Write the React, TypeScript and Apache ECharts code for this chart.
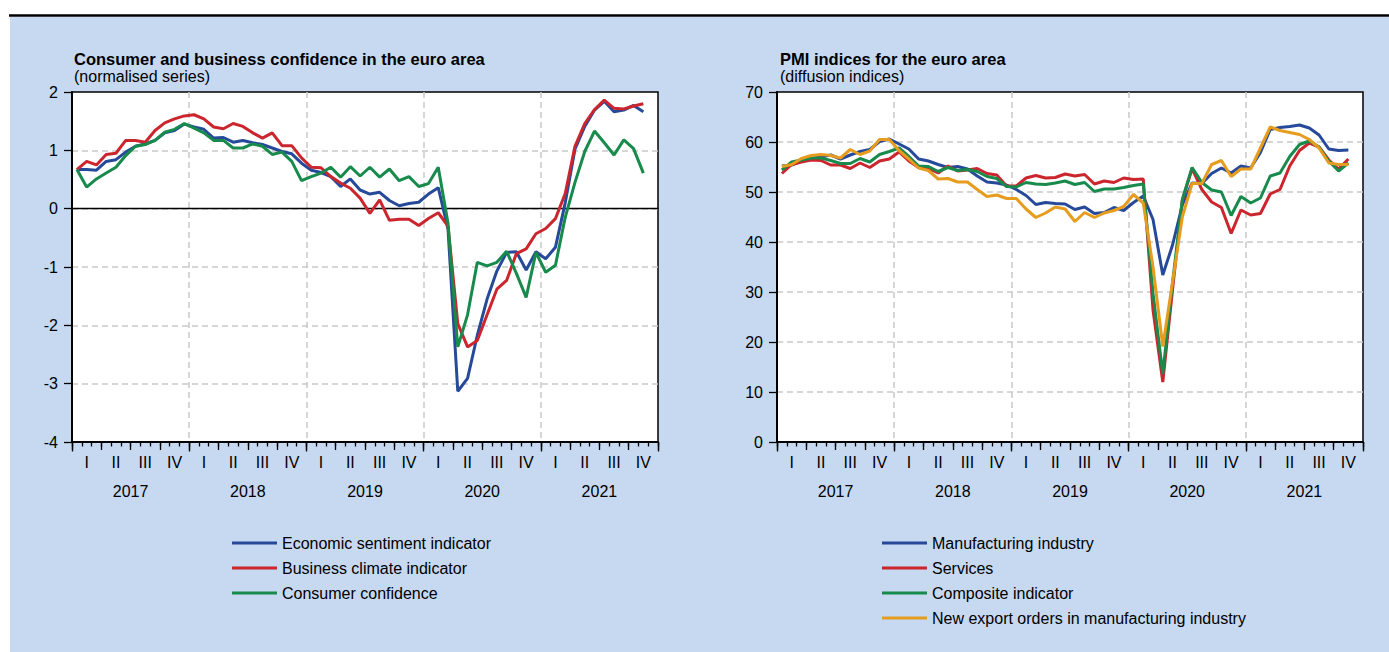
import React, { useEffect, useRef } from "react";
import * as echarts from "echarts";

// ---------- categories / tick labels ----------
const YEARS: string[] = ["2017", "2018", "2019", "2020", "2021"];
const QUARTER_NAMES: string[] = ["I", "II", "III", "IV"];
const MONTH_NAMES: string[] = ["Jan", "Feb", "Mar", "Apr", "May", "Jun", "Jul", "Aug", "Sep", "Oct", "Nov", "Dec"];

const MONTHS: string[] = YEARS.flatMap((y) => MONTH_NAMES.map((m) => `${m} ${y}`));
const QUARTERS: string[] = YEARS.flatMap((y) => QUARTER_NAMES.map((q) => `${q} ${y}`));

// ---------- left chart: normalised series (Jan 2017 - Nov 2021) ----------
const ESI: number[] = [
  0.67, 0.67, 0.66, 0.81, 0.84, 0.97, 1.07, 1.11, 1.17, 1.30, 1.34, 1.45,
  1.40, 1.36, 1.21, 1.22, 1.14, 1.17, 1.13, 1.10, 1.04, 0.98, 0.94, 0.78,
  0.66, 0.62, 0.55, 0.38, 0.51, 0.32, 0.25, 0.28, 0.14, 0.05, 0.09, 0.11,
  0.25, 0.36, -0.35, -3.13, -2.91, -2.17, -1.55, -1.07, -0.75, -0.74, -1.05, -0.74,
  -0.86, -0.66, 0.10, 1.02, 1.41, 1.69, 1.84, 1.66, 1.69, 1.77, 1.66,
];
const BCI: number[] = [
  0.67, 0.81, 0.75, 0.93, 0.95, 1.17, 1.17, 1.14, 1.34, 1.47, 1.54, 1.59,
  1.61, 1.54, 1.40, 1.37, 1.46, 1.41, 1.30, 1.21, 1.30, 1.08, 1.08, 0.87,
  0.71, 0.70, 0.55, 0.44, 0.35, 0.18, -0.08, 0.15, -0.20, -0.18, -0.18, -0.29,
  -0.17, -0.07, -0.30, -1.97, -2.37, -2.26, -1.82, -1.38, -1.23, -0.77, -0.69, -0.43,
  -0.34, -0.17, 0.26, 1.07, 1.46, 1.70, 1.86, 1.72, 1.71, 1.76, 1.80,
];
const CONSUMER: number[] = [
  0.67, 0.37, 0.51, 0.61, 0.71, 0.91, 1.07, 1.10, 1.17, 1.31, 1.36, 1.46,
  1.38, 1.30, 1.17, 1.17, 1.04, 1.04, 1.11, 1.07, 0.93, 0.97, 0.81, 0.48,
  0.55, 0.61, 0.71, 0.54, 0.72, 0.56, 0.71, 0.54, 0.68, 0.48, 0.55, 0.38,
  0.43, 0.71, -0.25, -2.37, -1.82, -0.92, -0.98, -0.92, -0.73, -1.11, -1.52, -0.75,
  -1.09, -0.97, -0.15, 0.45, 0.98, 1.33, 1.13, 0.92, 1.18, 1.03, 0.61,
];

// ---------- right chart: PMI diffusion indices (Jan 2017 - Nov 2021) ----------
const MANUFACTURING: number[] = [
  55.2, 55.4, 56.2, 56.7, 57.0, 57.4, 56.6, 57.4, 58.1, 58.5, 60.1, 60.6,
  59.6, 58.6, 56.6, 56.2, 55.5, 54.9, 55.1, 54.6, 53.2, 52.0, 51.8, 51.4,
  50.5, 49.3, 47.5, 47.9, 47.7, 47.6, 46.5, 47.0, 45.7, 45.9, 46.9, 46.3,
  47.9, 49.2, 44.5, 33.4, 39.4, 47.4, 51.8, 51.7, 53.7, 54.8, 53.8, 55.2,
  54.8, 57.9, 62.5, 62.9, 63.1, 63.4, 62.8, 61.4, 58.6, 58.3, 58.4,
];
const SERVICES: number[] = [
  53.7, 55.5, 56.0, 56.4, 56.3, 55.4, 55.4, 54.7, 55.8, 54.9, 56.2, 56.6,
  58.0, 56.2, 54.9, 54.7, 53.8, 55.2, 54.2, 54.4, 54.7, 53.7, 53.4, 51.2,
  51.2, 52.8, 53.3, 52.8, 52.9, 53.6, 53.2, 53.5, 51.6, 52.2, 51.9, 52.8,
  52.5, 52.6, 26.4, 12.0, 30.5, 48.3, 54.7, 50.5, 48.0, 46.9, 41.7, 46.4,
  45.4, 45.7, 49.6, 50.5, 55.2, 58.3, 59.8, 59.0, 56.4, 54.6, 56.6,
];
const COMPOSITE: number[] = [
  54.4, 56.0, 56.4, 56.8, 56.8, 56.3, 55.7, 55.7, 56.7, 56.0, 57.5, 58.1,
  58.8, 57.1, 55.2, 55.1, 54.1, 54.9, 54.3, 54.5, 54.1, 53.1, 52.7, 51.1,
  51.0, 51.9, 51.6, 51.5, 51.8, 52.2, 51.5, 51.9, 50.1, 50.6, 50.6, 50.9,
  51.3, 51.6, 29.7, 13.6, 31.9, 48.5, 54.9, 51.9, 50.4, 50.0, 45.3, 49.1,
  47.8, 48.8, 53.2, 53.8, 57.1, 59.5, 60.2, 59.0, 56.2, 54.2, 55.8,
];
const EXPORT_ORDERS: number[] = [
  55.1, 55.5, 56.7, 57.3, 57.5, 57.3, 56.8, 58.5, 57.5, 58.2, 60.5, 60.5,
  58.3, 56.6, 54.8, 54.3, 52.6, 52.7, 52.0, 52.0, 50.5, 49.1, 49.4, 48.7,
  48.7, 46.6, 44.9, 45.8, 47.0, 46.6, 44.1, 45.9, 44.9, 45.8, 46.3, 47.1,
  49.5, 47.8, 35.0, 19.1, 32.0, 45.0, 51.7, 51.7, 55.5, 56.3, 53.1, 54.6,
  54.6, 58.8, 63.0, 62.3, 61.9, 61.5, 60.5, 58.8, 55.8, 55.5, 55.5,
];

const LEFT_NAMES: string[] = ["Economic sentiment indicator", "Business climate indicator", "Consumer confidence"];
const RIGHT_NAMES: string[] = [
  "Manufacturing industry",
  "Services",
  "Composite indicator",
  "New export orders in manufacturing industry",
];

// ---------- styles ----------
const FONT = "'Liberation Sans', Arial, Helvetica, sans-serif";
const BLUE = "#26499A";
const RED = "#CB252D";
const GREEN = "#178A4C";
const ORANGE = "#E59C1F";
const PANEL = "#C6D9F1";
const GRIDLINE = "#C9C9C9";

const makeXAxes = (gridIndex: number) => [
  {
    type: "category",
    gridIndex,
    data: MONTHS,
    boundaryGap: true,
    position: "bottom",
    axisLine: { show: true, onZero: false, lineStyle: { color: "#000", width: 2 } },
    axisTick: { show: true, interval: 0, length: 4.5, lineStyle: { color: "#000", width: 1.3 } },
    axisLabel: { show: false },
    splitLine: { show: false },
  },
  {
    type: "category",
    gridIndex,
    data: QUARTERS,
    boundaryGap: true,
    position: "bottom",
    axisLine: { show: false, onZero: false },
    axisTick: { show: true, interval: 0, length: 8, lineStyle: { color: "#000", width: 1.3 } },
    axisLabel: {
      show: true,
      interval: 0,
      margin: 12,
      fontSize: 16,
      color: "#000",
      fontFamily: FONT,
      formatter: (v: string) => v.split(" ")[0],
    },
    splitLine: { show: false },
  },
  {
    type: "category",
    gridIndex,
    data: YEARS,
    boundaryGap: true,
    position: "bottom",
    axisLine: { show: false, onZero: false },
    axisTick: { show: true, interval: 0, length: 9.5, lineStyle: { color: "#000", width: 1.3 } },
    axisLabel: { show: true, interval: 0, margin: 41, fontSize: 16, color: "#000", fontFamily: FONT },
    splitLine: {
      show: true,
      interval: 0,
      showMinLine: false,
      showMaxLine: false,
      lineStyle: { color: GRIDLINE, width: 1.5, type: [6, 4] },
    },
  },
];

const makeYAxis = (gridIndex: number, min: number, max: number, interval: number) => ({
  type: "value",
  gridIndex,
  min,
  max,
  interval,
  position: "left",
  axisLine: { show: true, onZero: false, lineStyle: { color: "#000", width: 2 } },
  axisTick: { show: true, length: 8, lineStyle: { color: "#000", width: 1.3 } },
  axisLabel: { margin: 14, fontSize: 16, color: "#000", fontFamily: FONT },
  splitLine: {
    show: true,
    showMinLine: false,
    showMaxLine: false,
    lineStyle: { color: GRIDLINE, width: 1.5, type: [6, 4] },
  },
});

const lineSeries = (name: string, data: number[], color: string, xAxisIndex: number, yAxisIndex: number) => ({
  name,
  type: "line",
  data,
  xAxisIndex,
  yAxisIndex,
  symbol: "none",
  showSymbol: false,
  lineStyle: { width: 3, color },
  itemStyle: { color },
  emphasis: { disabled: true },
});

export default function App() {
  const ref = useRef<HTMLDivElement>(null);

  useEffect(() => {
    if (!ref.current) return;
    const chart = echarts.init(ref.current, undefined, { renderer: "svg" });

    const xLeft = makeXAxes(0);
    const xRight = makeXAxes(1);
    const zeroLineAxis = {
      type: "category",
      gridIndex: 0,
      data: MONTHS,
      boundaryGap: true,
      position: "bottom",
      axisLine: { show: true, onZero: true, lineStyle: { color: "#000", width: 1.3 } },
      axisTick: { show: false },
      axisLabel: { show: false },
      splitLine: { show: false },
    };

    const legendCommon = {
      orient: "vertical",
      icon: "rect",
      itemWidth: 45,
      itemHeight: 3,
      itemGap: 9,
      padding: 0,
      selectedMode: false,
      textStyle: { fontSize: 16, color: "#000", fontFamily: FONT, lineHeight: 16 },
    };

    chart.setOption({
      animation: false,
      backgroundColor: "#fff",
      textStyle: { fontFamily: FONT },
      graphic: [
        {
          type: "rect",
          z: -10,
          silent: true,
          shape: { x: 10, y: 17, width: 1379, height: 635 },
          style: { fill: PANEL },
        },
        {
          type: "line",
          z: -10,
          silent: true,
          shape: { x1: 9, y1: 15.5, x2: 1389, y2: 15.5 },
          style: { stroke: "#000", lineWidth: 2.5 },
        },
      ],
      title: [
        {
          text: "Consumer and business confidence in the euro area",
          subtext: "(normalised series)",
          left: 74,
          top: 50,
          padding: 0,
          itemGap: 1,
          textStyle: { fontSize: 16.5, fontWeight: "bold", color: "#000", fontFamily: FONT },
          subtextStyle: { fontSize: 16, color: "#000", fontFamily: FONT },
        },
        {
          text: "PMI indices for the euro area",
          subtext: "(diffusion indices)",
          left: 780,
          top: 50,
          padding: 0,
          itemGap: 1,
          textStyle: { fontSize: 16.5, fontWeight: "bold", color: "#000", fontFamily: FONT },
          subtextStyle: { fontSize: 16, color: "#000", fontFamily: FONT },
        },
      ],
      legend: [
        { ...legendCommon, data: LEFT_NAMES, left: 232, top: 535 },
        { ...legendCommon, data: RIGHT_NAMES, left: 882, top: 535 },
      ],
      grid: [
        {
          left: 72,
          top: 92,
          width: 586,
          height: 350,
          show: true,
          backgroundColor: "#fff",
          borderColor: "#000",
          borderWidth: 1.5,
        },
        {
          left: 777,
          top: 92,
          width: 586,
          height: 350,
          show: true,
          backgroundColor: "#fff",
          borderColor: "#000",
          borderWidth: 1.5,
        },
      ],
      // 0-2: left (months, quarters, years), 3: left zero line, 4-6: right (months, quarters, years)
      xAxis: [...xLeft, zeroLineAxis, ...xRight],
      yAxis: [makeYAxis(0, -4, 2, 1), makeYAxis(1, 0, 70, 10)],
      series: [
        lineSeries(LEFT_NAMES[0], ESI, BLUE, 0, 0),
        lineSeries(LEFT_NAMES[1], BCI, RED, 0, 0),
        lineSeries(LEFT_NAMES[2], CONSUMER, GREEN, 0, 0),
        lineSeries(RIGHT_NAMES[0], MANUFACTURING, BLUE, 4, 1),
        lineSeries(RIGHT_NAMES[1], SERVICES, RED, 4, 1),
        lineSeries(RIGHT_NAMES[2], COMPOSITE, GREEN, 4, 1),
        lineSeries(RIGHT_NAMES[3], EXPORT_ORDERS, ORANGE, 4, 1),
      ],
    });

    return () => chart.dispose();
  }, []);

  return (
    <div
      ref={ref}
      style={{ position: "absolute", left: 0, top: 0, width: 1389, height: 652 }}
    />
  );
}
